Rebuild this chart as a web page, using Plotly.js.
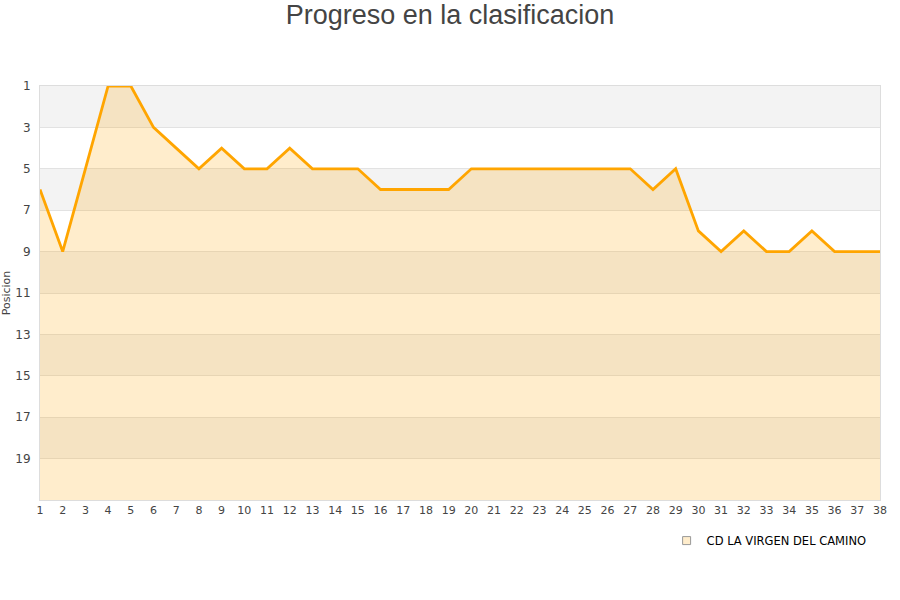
<!DOCTYPE html>
<html>
<head>
<meta charset="utf-8">
<script src="https://cdn.plot.ly/plotly-3.0.1.min.js"></script>
<style>html,body{margin:0;padding:0;background:#fff}#chart{width:900px;height:600px}</style>
</head>
<body>
<div id="chart"></div>
<script>
// jornadas y posicion del equipo
var jornadas = [];
for (var j = 1; j <= 38; j++) jornadas.push(j);
var posiciones = [6, 9, 5, 1, 1, 3, 4, 5, 4, 5, 5, 4, 5, 5, 5, 6, 6, 6, 6, 5,
  5, 5, 5, 5, 5, 5, 5, 6, 5, 8, 9, 8, 9, 9, 8, 9, 9, 9];
var equipo = 'CD LA VIRGEN DEL CAMINO';
var ultimaPos = 21;
var yTicks = [1, 3, 5, 7, 9, 11, 13, 15, 17, 19];

// base para rellenar hasta el fondo del eje invertido
var base = {
  x: jornadas,
  y: jornadas.map(function () { return ultimaPos; }),
  mode: 'lines',
  line: { width: 0 },
  hoverinfo: 'skip',
  showlegend: false
};

var serie = {
  x: jornadas,
  y: posiciones,
  mode: 'lines',
  fill: 'tonexty',
  fillcolor: 'rgba(255,165,0,0.2)',
  line: { color: '#ffa500', width: 2.8 },
  name: equipo,
  showlegend: false
};

// solo para la leyenda (cuadradito)
var leyenda = {
  x: [null],
  y: [null],
  mode: 'markers',
  marker: { symbol: 'square', size: 8, color: 'rgba(255,165,0,0.2)', line: { color: '#999', width: 1 } },
  name: equipo
};

// bandas grises alternas
var bandas = [];
for (var b = 1; b < ultimaPos; b += 4) {
  bandas.push({
    type: 'rect', xref: 'paper', yref: 'y', x0: 0, x1: 1, y0: b, y1: b + 2,
    fillcolor: '#f3f3f3', line: { width: 0 }, layer: 'below'
  });
}

var layout = {
  width: 900,
  height: 600,
  margin: { l: 40, r: 20, t: 86, b: 100 },
  paper_bgcolor: '#fff',
  plot_bgcolor: '#fff',
  font: { family: 'DejaVu Sans, sans-serif', size: 11, color: '#444' },
  title: {
    text: 'Progreso en la clasificacion',
    font: { family: 'Liberation Sans, Arial, sans-serif', size: 27, color: '#444' },
    x: 0.5, xanchor: 'center', y: 0.975, yanchor: 'middle'
  },
  shapes: bandas,
  xaxis: {
    range: [1, 38],
    tickmode: 'array',
    tickvals: jornadas,
    showgrid: false,
    zeroline: false,
    showline: true,
    linecolor: '#ddd',
    mirror: true,
    ticks: '',
    tickfont: { size: 11, color: '#444' }
  },
  yaxis: {
    range: [ultimaPos, 1],
    tickmode: 'array',
    tickvals: yTicks,
    showgrid: true,
    gridcolor: '#e2e2e2',
    zeroline: false,
    showline: true,
    linecolor: '#ddd',
    mirror: true,
    ticks: '',
    ticklabelstandoff: 6,
    tickfont: { size: 12, color: '#444' },
    title: { text: 'Posicion', font: { size: 11, color: '#444' }, standoff: 6 }
  },
  legend: {
    orientation: 'h',
    x: 0.99, xanchor: 'right',
    y: -0.063, yanchor: 'top',
    font: { family: 'DejaVu Sans, sans-serif', size: 11.5, color: '#000' }
  },
  hovermode: false
};

Plotly.newPlot('chart', [base, serie, leyenda], layout, { displayModeBar: false, staticPlot: true });
</script>
</body>
</html>
